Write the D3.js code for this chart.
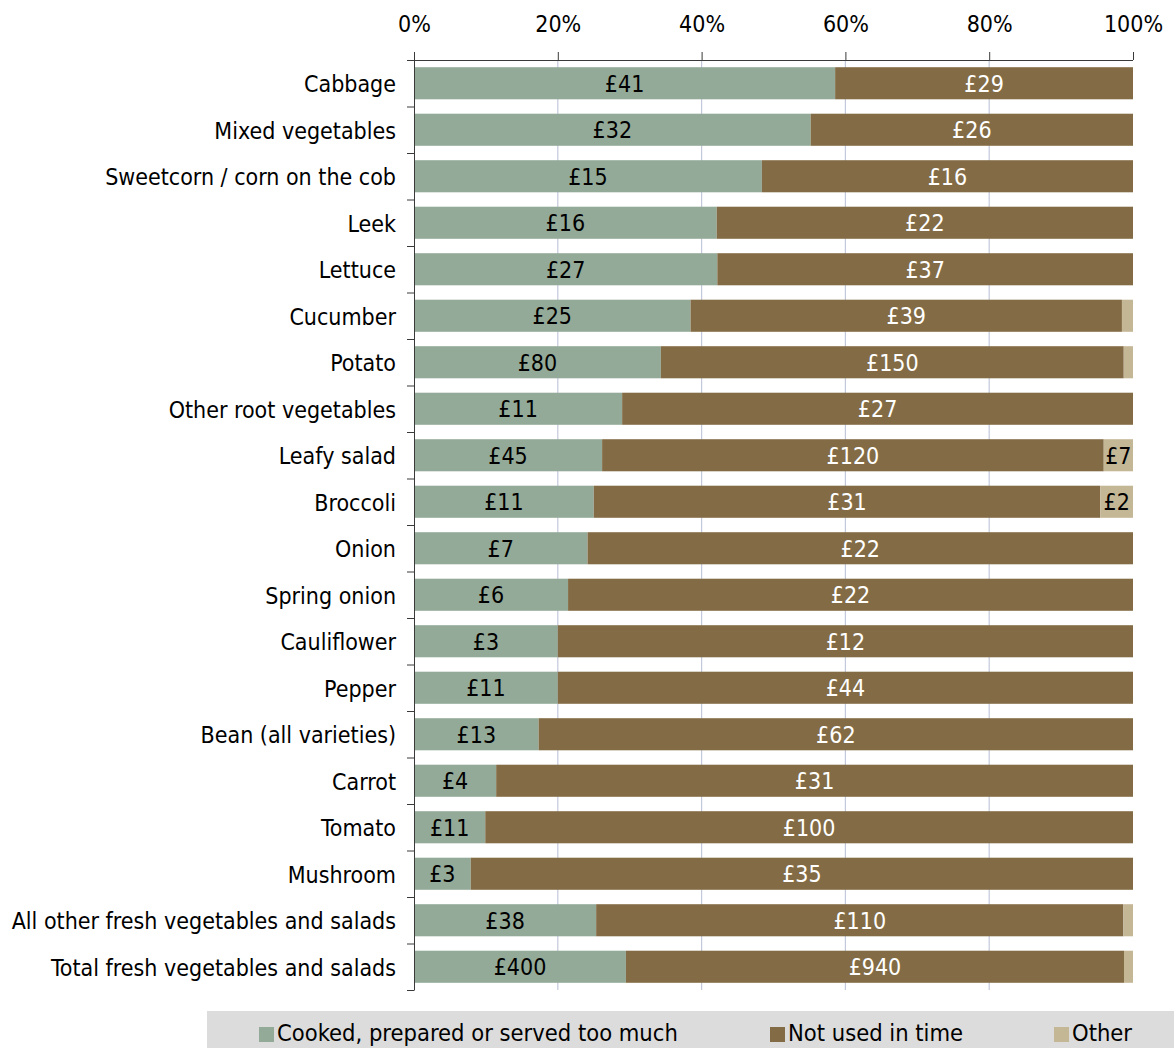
<!DOCTYPE html>
<html>
<head>
<meta charset="utf-8">
<script src="https://cdn.jsdelivr.net/npm/d3@7"></script>
<style>
  html, body { margin: 0; padding: 0; background: #fff; }
  svg { display: block; font-family: "DejaVu Sans Condensed", "DejaVu Sans", sans-serif; font-stretch: condensed; }
</style>
</head>
<body>
<svg id="chart" width="1174" height="1048"></svg>
<script>
// Fresh vegetable waste by reason (£ per category), shown as 100% stacked bars
const categories = [
  "Cabbage", "Mixed vegetables", "Sweetcorn / corn on the cob", "Leek", "Lettuce",
  "Cucumber", "Potato", "Other root vegetables", "Leafy salad", "Broccoli",
  "Onion", "Spring onion", "Cauliflower", "Pepper", "Bean (all varieties)",
  "Carrot", "Tomato", "Mushroom", "All other fresh vegetables and salads",
  "Total fresh vegetables and salads"
];
const cookedValues  = [41, 32, 15, 16, 27, 25, 80, 11, 45, 11, 7, 6, 3, 11, 13, 4, 11, 3, 38, 400];
const notUsedValues = [29, 26, 16, 22, 37, 39, 150, 27, 120, 31, 22, 22, 12, 44, 62, 31, 100, 35, 110, 940];
const otherValues   = [0, 0, 0, 0, 0, 1, 3, 0, 7, 2, 0, 0, 0, 0, 0, 0, 0, 0, 2, 17];
// "Other" amounts that carry a printed label
const otherLabelled = ["Leafy salad", "Broccoli"];
const seriesNames = ["Cooked, prepared or served too much", "Not used in time", "Other"];
const seriesColors = ["#94aa98", "#836c45", "#c4b796"];
const labelColors = ["#000000", "#ffffff", "#000000"];
const tickValues = [0, 0.2, 0.4, 0.6, 0.8, 1];

const svg = d3.select("#chart");
const FONT = 23;
const plotLeft = 414, plotRight = 1133, plotTop = 60, plotBottom = 990;

const x = d3.scaleLinear().domain([0, 1]).range([plotLeft, plotRight]);
const y = d3.scaleBand().domain(categories).range([plotTop, plotBottom])
  .paddingInner(0.31).paddingOuter(0.155);

// Stack shares for each row
const rows = categories.map((c, i) => {
  const vals = [cookedValues[i], notUsedValues[i], otherValues[i]];
  const total = d3.sum(vals);
  let acc = 0;
  const segs = vals.map((v, k) => {
    const s = { cat: c, key: k, value: v, x0: acc / total, x1: (acc + v) / total };
    acc += v;
    return s;
  });
  return { cat: c, segs };
});

// Vertical gridlines
svg.append("g").selectAll("line")
  .data(tickValues.filter(t => t > 0 && t < 1))
  .join("line")
  .attr("x1", d => x(d)).attr("x2", d => x(d))
  .attr("y1", plotTop).attr("y2", plotBottom)
  .attr("stroke", "#c3c9dc").attr("stroke-width", 1.2);

// Bars
const rowG = svg.append("g").selectAll("g").data(rows).join("g");
rowG.selectAll("rect")
  .data(d => d.segs.filter(s => s.value > 0))
  .join("rect")
  .attr("x", s => x(s.x0))
  .attr("width", s => x(s.x1) - x(s.x0))
  .attr("y", s => y(s.cat))
  .attr("height", y.bandwidth())
  .attr("fill", s => seriesColors[s.key]);

// Value labels
rowG.selectAll("text")
  .data(d => d.segs.filter(s => s.value > 0 && (s.key < 2 || otherLabelled.includes(s.cat))))
  .join("text")
  .attr("x", s => (x(s.x0) + x(s.x1)) / 2)
  .attr("y", s => y(s.cat) + y.bandwidth() / 2)
  .attr("dy", "0.36em")
  .attr("text-anchor", "middle")
  .attr("font-size", FONT)
  .attr("fill", s => labelColors[s.key])
  .text(s => "£" + s.value);

// Top percentage axis
const xAxis = svg.append("g")
  .attr("transform", `translate(0,${plotTop})`)
  .call(d3.axisTop(x).tickValues(tickValues).tickFormat(d3.format(".0%"))
    .tickSize(8).tickSizeOuter(0).tickPadding(20));
xAxis.selectAll("text").attr("font-size", FONT).attr("fill", "#000");
xAxis.attr("font-family", null);
xAxis.selectAll("line, path").attr("stroke", "#3a3a3a");
xAxis.select(".domain").attr("d", `M${plotLeft - 7},0.5H${plotRight}`);

// Left category axis: boundary ticks plus labels
const boundary = d3.scaleLinear().domain([0, categories.length]).range([plotTop, plotBottom]);
const yTicks = svg.append("g")
  .attr("transform", `translate(${plotLeft},0)`)
  .call(d3.axisLeft(boundary).tickValues(d3.range(categories.length + 1))
    .tickFormat("").tickSize(7).tickSizeOuter(0));
yTicks.selectAll("line, path").attr("stroke", "#3a3a3a");

const yLabels = svg.append("g")
  .attr("transform", `translate(${plotLeft},1.5)`)
  .call(d3.axisLeft(y).tickSize(0).tickPadding(18));
yLabels.attr("font-family", null);
yLabels.select(".domain").remove();
yLabels.selectAll("text").attr("font-size", FONT).attr("fill", "#000");

// Legend
const legend = svg.append("g");
legend.append("rect")
  .attr("x", 207).attr("y", 1011).attr("width", 1174 - 207).attr("height", 48)
  .attr("fill", "#dcdcdc");
const legendX = [259, 770, 1054];
const item = legend.selectAll("g.item").data(seriesNames).join("g")
  .attr("class", "item")
  .attr("transform", (d, i) => `translate(${legendX[i]},1027)`);
item.append("rect").attr("width", 15).attr("height", 15)
  .attr("fill", (d, i) => seriesColors[i]);
item.append("text").attr("x", 18).attr("y", 14)
  .attr("font-size", 23.5).attr("fill", "#000")
  .text(d => d);
</script>
</body>
</html>
